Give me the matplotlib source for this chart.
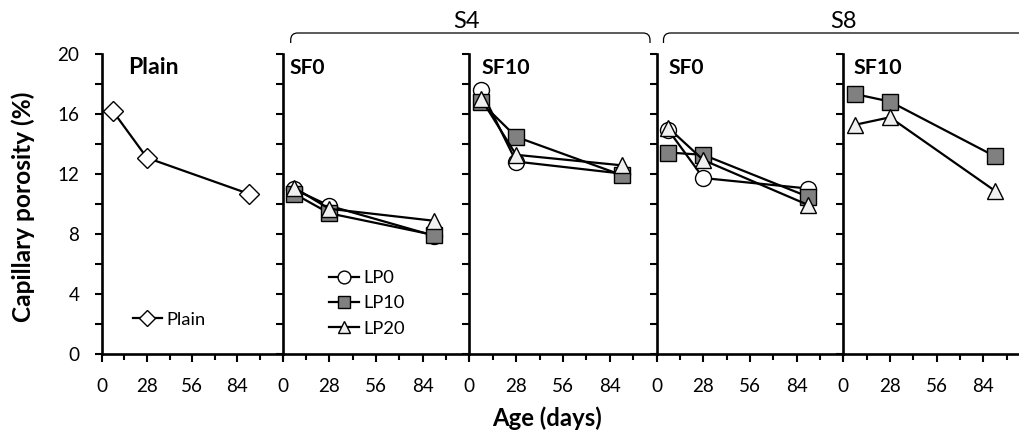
import matplotlib
matplotlib.use("Agg")
import matplotlib.pyplot as plt
from matplotlib.path import Path
from matplotlib.patches import PathPatch
from matplotlib.ticker import MultipleLocator

plt.rcParams['font.family'] = ['Lato', 'DejaVu Sans']

# Data
age = [7, 28, 91]
plain = [16.2, 13.1, 10.7]

s4_sf0_lp0 = [11.0, 9.9, 7.9]
s4_sf0_lp10 = [10.7, 9.4, 7.95]
s4_sf0_lp20 = [11.1, 9.7, 8.9]

s4_sf10_lp0 = [17.6, 12.85, 12.05]
s4_sf10_lp10 = [16.8, 14.5, 11.95]
s4_sf10_lp20 = [17.05, 13.3, 12.6]

s8_sf0_lp0 = [14.95, 11.75, 11.05]
s8_sf0_lp10 = [13.45, 13.3, 10.5]
s8_sf0_lp20 = [15.1, 12.95, 9.95]

s8_sf10_lp10 = [17.35, 16.85, 13.2]
s8_sf10_lp20 = [15.3, 15.8, 10.9]

panel_titles = ['Plain', 'SF0', 'SF10', 'SF0', 'SF10']
group_labels = ['S4', 'S8']
x_ticks = [0, 28, 56, 84]

W, H = 1020, 436
fig = plt.figure(figsize=(W / 100, H / 100), dpi=100)

# panel placement in pixels (left, width)
lefts = [101.7, 282.7, 469.2, 656.7, 843.3]
widths = [181.0, 186.5, 187.5, 186.6, 186.6]
bottom_px, height_px = 354.3, 300.0
title_off = [26, 7, 12, 12, 10]
title_w = [51, 36, 49, 36, 49]

styles = {
    'LP0': dict(marker='o', mfc='white', ms=11.5),
    'LP10': dict(marker='s', mfc='#808080', ms=11),
    'LP20': dict(marker='^', mfc='#f0f0f0', ms=11.5),
    'Plain': dict(marker='D', mfc='white', ms=10),
}

panels = [
    [('Plain', plain)],
    [('LP0', s4_sf0_lp0), ('LP10', s4_sf0_lp10), ('LP20', s4_sf0_lp20)],
    [('LP0', s4_sf10_lp0), ('LP10', s4_sf10_lp10), ('LP20', s4_sf10_lp20)],
    [('LP0', s8_sf0_lp0), ('LP10', s8_sf0_lp10), ('LP20', s8_sf0_lp20)],
    [('LP10', s8_sf10_lp10), ('LP20', s8_sf10_lp20)],
]

fits = []  # (text artist, target size px, use height)

axes = []
for i, series in enumerate(panels):
    ax = fig.add_axes([lefts[i] / W, (H - bottom_px) / H, widths[i] / W, height_px / H])
    axes.append(ax)
    for name, vals in series:
        ax.plot(age, vals, color='black', lw=1.6, mec='black', mew=1.0,
                label=name, clip_on=False, **styles[name])
    ax.set_xlim(0, 112)
    ax.set_ylim(0, 20)
    ax.set_xticks(x_ticks)
    ax.xaxis.set_minor_locator(MultipleLocator(14))
    ax.yaxis.set_major_locator(MultipleLocator(4))
    ax.yaxis.set_minor_locator(MultipleLocator(2))
    for s in ['top', 'right']:
        ax.spines[s].set_visible(False)
    for s in ['left', 'bottom']:
        ax.spines[s].set_linewidth(1.9)
    ax.tick_params(axis='y', which='both', direction='out', length=5, width=1.5,
                   labelsize=14, pad=11)
    ax.tick_params(axis='x', which='major', direction='out', length=6, width=1.5,
                   labelsize=14, pad=11)
    ax.tick_params(axis='x', which='minor', direction='out', length=4, width=1.5)
    if i > 0:
        ax.tick_params(axis='y', labelleft=False)
    ax.patch.set_alpha(0)
    t = ax.text(title_off[i] / widths[i], 0.955, panel_titles[i], transform=ax.transAxes,
                fontsize=14, fontweight='bold', ha='left', va='center')
    fits.append((t, title_w[i], False))

ylab = axes[0].set_ylabel('Capillary porosity (%)', fontsize=14, fontweight='bold')
ylab.set_va('center')
axes[0].yaxis.set_label_coords((23 - lefts[0]) / widths[0], (354.3 - 207) / height_px)
fits.append((ylab, 232, True))

xl = fig.text(547 / W, 1 - 418 / H, 'Age (days)', fontsize=14, fontweight='bold',
              ha='center', va='center')
fits.append((xl, 110, False))


def bracket(x0, x1, y, drop, r=7):
    # horizontal brace with rounded ends, pixel coords (y down)
    pts = [(x0, y + drop), (x0, y + r), (x0, y), (x0 + r, y),
           (x1 - r, y), (x1, y), (x1, y + r), (x1, y + drop)]
    codes = [Path.MOVETO, Path.LINETO, Path.CURVE3, Path.CURVE3,
             Path.LINETO, Path.CURVE3, Path.CURVE3, Path.LINETO]
    verts = [(px / W, 1 - py / H) for px, py in pts]
    fig.add_artist(PathPatch(Path(verts, codes), transform=fig.transFigure,
                             fill=False, lw=0.9, color='black', clip_on=False))


bracket(290.7, 650, 33, 10)
bracket(663.5, 1060, 33, 10)
g1 = fig.text(466.7 / W, 1 - 22 / H, group_labels[0], fontsize=17, ha='center', va='center')
g2 = fig.text(843 / W, 1 - 22 / H, group_labels[1], fontsize=17, ha='center', va='center')
fits.append((g1, 26.5, False))

# scale font sizes so text extents match the reference
fig.canvas.draw()
r = fig.canvas.get_renderer()
for t, target, vertical in fits:
    bb = t.get_window_extent(r)
    cur = bb.height if vertical else bb.width
    t.set_fontsize(t.get_fontsize() * target / cur)
g2.set_fontsize(g1.get_fontsize())

# tick labels: fit "84" to ~22 px
lab = [l for l in axes[0].get_xticklabels() if l.get_text() == '84'][0]
tick_size = 14 * 22 / lab.get_window_extent(r).width
for ax in axes:
    ax.tick_params(axis='both', labelsize=tick_size)

# legend font: "LP10" is about 42 px wide in the reference
probe = fig.text(0, 0, 'LP10', fontsize=14)
fig.canvas.draw()
leg_size = 14 * 42 / probe.get_window_extent(fig.canvas.get_renderer()).width
probe.remove()

axes[0].legend(loc='center left', bbox_to_anchor=(0.12, 0.115), frameon=False,
               fontsize=leg_size, handlelength=1.6, handletextpad=0.25, borderpad=0,
               markerscale=0.85)
axes[1].legend(loc='center left', bbox_to_anchor=(0.2, 0.17), frameon=False,
               fontsize=leg_size, handlelength=1.6, handletextpad=0.25, borderpad=0,
               labelspacing=0.5, markerscale=0.8)

fig.savefig('out.png', dpi=100)
